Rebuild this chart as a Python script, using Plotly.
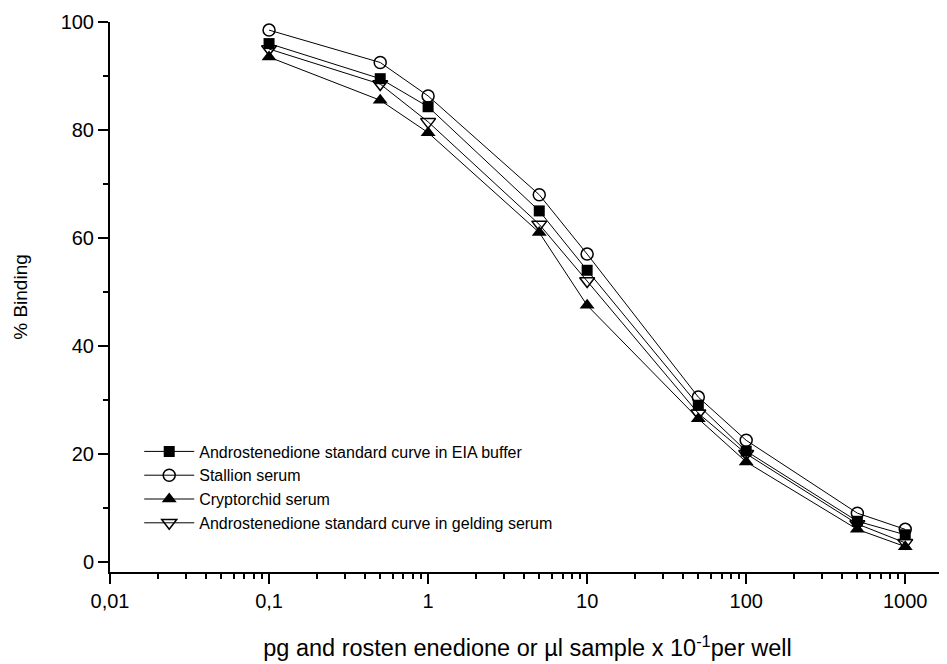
import plotly.graph_objects as go

x_vals = [0.1, 0.5, 1, 5, 10, 50, 100, 500, 1000]
eia_buffer = [96, 89.5, 84.3, 65, 54, 29, 20.5, 7.5, 5]
stallion = [98.5, 92.5, 86.3, 68, 57, 30.5, 22.5, 9, 6]
cryptorchid = [93.5, 85.5, 79.5, 61, 47.5, 26.5, 18.5, 6, 2.8]
gelding = [95, 88.5, 81.5, 62.5, 52, 27.5, 20, 7, 3.5]

series_names = [
    "Androstenedione standard curve in EIA buffer",
    "Stallion serum",
    "Cryptorchid serum",
    "Androstenedione standard curve in gelding serum",
]
x_tickvals = [0.01, 0.1, 1, 10, 100, 1000]
x_ticktext = ["0,01", "0,1", "1", "10", "100", "1000"]
y_tickvals = [0, 20, 40, 60, 80, 100]

fig = go.Figure()
styles = [
    (eia_buffer, dict(symbol="square", color="black", size=11)),
    (stallion, dict(symbol="circle-open", color="black", size=12, line=dict(width=1.5, color="black"))),
    (cryptorchid, dict(symbol="triangle-up", color="black", size=13)),
    (gelding, dict(symbol="triangle-down-open", color="black", size=13, line=dict(width=1.5, color="black"))),
]
for name, (vals, mk) in zip(series_names, styles):
    fig.add_trace(go.Scatter(
        x=x_vals, y=vals, name=name, mode="lines+markers",
        line=dict(color="black", width=1), marker=mk,
    ))

fig.update_layout(
    width=947, height=664,
    margin=dict(l=102, r=10, t=14, b=100),
    paper_bgcolor="white", plot_bgcolor="white",
    font=dict(family="Liberation Sans, Arial, sans-serif", color="black", size=20),
    showlegend=True,
    legend=dict(x=0.035, y=0.25, xanchor="left", yanchor="top",
                bgcolor="rgba(0,0,0,0)", font=dict(size=16), tracegroupgap=0,
                itemwidth=50),
)
fig.update_xaxes(
    type="log", range=[-2, 3.25], automargin=False,
    tickvals=x_tickvals, ticktext=x_ticktext,
    ticks="outside", ticklen=10, tickwidth=2, tickcolor="black",
    showline=True, linecolor="black", linewidth=2, showgrid=False, zeroline=False,
    minor=dict(ticks="outside", ticklen=5, tickwidth=1.5, tickcolor="black",
               dtick="D1", showgrid=False),
    title=dict(text="pg and rosten enedione or µl sample x 10<sup>-1</sup>per well",
               font=dict(size=23.5), standoff=29),
)
fig.update_yaxes(
    range=[-1.9, 100], tickvals=y_tickvals, automargin=False,
    ticks="outside", ticklen=10, tickwidth=2, tickcolor="black",
    showline=True, linecolor="black", linewidth=2, showgrid=False, zeroline=False,
    minor=dict(ticks="outside", ticklen=5, tickwidth=1.5, tickcolor="black",
               dtick=10, showgrid=False),
    title=dict(text="% Binding", font=dict(size=19), standoff=28),
)

fig.write_html("out.html")
